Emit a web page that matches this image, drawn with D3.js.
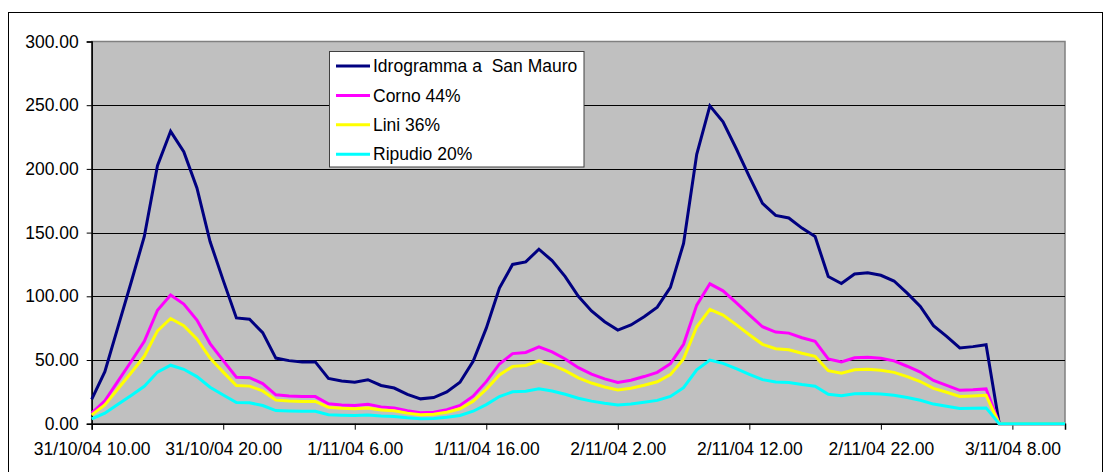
<!DOCTYPE html>
<html>
<head>
<meta charset="utf-8">
<script src="https://cdn.jsdelivr.net/npm/d3@7"></script>
<style>
  html, body { margin: 0; padding: 0; background: #ffffff; }
  svg { display: block; font-family: "Liberation Sans", Arial, sans-serif; }
</style>
</head>
<body>
<svg id="chart" width="1111" height="472"></svg>
<script>
// Hourly discharge (m³/s) at San Mauro and its split among three outlets
const seriesNames = ["Idrogramma a  San Mauro", "Corno 44%", "Lini 36%", "Ripudio 20%"];
const seriesColors = ["#000080", "#FF00FF", "#FFFF00", "#00FFFF"];

const sanMauro = [19.1, 40.8, 76, 111, 147, 202.5, 229.5, 213.5, 185, 143,
  112.5, 83, 82, 71.5, 51.5, 49.5, 48.5, 48.5, 35.5, 33.5,
  32.5, 34.5, 30, 28, 23, 19.5, 20.5, 25, 32.5, 49,
  75, 106.5, 125, 127, 137, 128, 115.5, 100, 88.5, 80,
  73.5, 77.5, 84, 91.5, 107, 141.5, 211.5, 249.5, 237, 216,
  194, 173, 163.5, 161.5, 153.5, 147, 115.5, 110, 117.5, 118.5,
  116.5, 112, 102.5, 92, 77, 68.5, 59.5, 60.5, 62, 0,
  0, 0, 0, 0, 0];

const corno = [8.4, 18.0, 33.4, 48.8, 64.7, 89.1, 101.0, 93.9, 81.4, 62.9,
  49.5, 36.5, 36.1, 31.5, 22.7, 21.8, 21.3, 21.3, 15.6, 14.7,
  14.3, 15.2, 13.2, 12.3, 10.1, 8.6, 9.0, 11.0, 14.3, 21.6,
  33.0, 46.9, 55.0, 55.9, 60.3, 56.3, 50.8, 44.0, 38.9, 35.2,
  32.3, 34.1, 37.0, 40.3, 47.1, 62.3, 93.1, 109.8, 104.3, 95.0,
  85.4, 76.1, 71.9, 71.1, 67.5, 64.7, 50.8, 48.4, 51.7, 52.1,
  51.3, 49.3, 45.1, 40.5, 33.9, 30.1, 26.2, 26.6, 27.3, 0,
  0, 0, 0, 0, 0];

const lini = [6.9, 14.7, 27.4, 40.0, 52.9, 72.9, 82.6, 76.9, 66.6, 51.5,
  40.5, 29.9, 29.5, 25.7, 18.5, 17.8, 17.5, 17.5, 12.8, 12.1,
  11.7, 12.4, 10.8, 10.1, 8.3, 7.0, 7.4, 9.0, 11.7, 17.6,
  27.0, 38.3, 45.0, 45.7, 49.3, 46.1, 41.6, 36.0, 31.9, 28.8,
  26.5, 27.9, 30.2, 32.9, 38.5, 50.9, 76.1, 89.8, 85.3, 77.8,
  69.8, 62.3, 58.9, 58.1, 55.3, 52.9, 41.6, 39.6, 42.3, 42.7,
  41.9, 40.3, 36.9, 33.1, 27.7, 24.7, 21.4, 21.8, 22.3, 0,
  0, 0, 0, 0, 0];

const ripudio = [3.8, 8.2, 15.2, 22.2, 29.4, 40.5, 45.9, 42.7, 37.0, 28.6,
  22.5, 16.6, 16.4, 14.3, 10.3, 9.9, 9.7, 9.7, 7.1, 6.7,
  6.5, 6.9, 6.0, 5.6, 4.6, 3.9, 4.1, 5.0, 6.5, 9.8,
  15.0, 21.3, 25.0, 25.4, 27.4, 25.6, 23.1, 20.0, 17.7, 16.0,
  14.7, 15.5, 16.8, 18.3, 21.4, 28.3, 42.3, 49.9, 47.4, 43.2,
  38.8, 34.6, 32.7, 32.3, 30.7, 29.4, 23.1, 22.0, 23.5, 23.7,
  23.3, 22.4, 20.5, 18.4, 15.4, 13.7, 11.9, 12.1, 12.4, 0,
  0, 0, 0, 0, 0];

const yTicks = [0, 50, 100, 150, 200, 250, 300];

// Hourly category labels, from 31/10/04 10.00 onward
const startHour = { day: 31, month: 10, hour: 10 };
const categories = sanMauro.map((_, i) => {
  let h = startHour.hour + i, d = startHour.day, m = startHour.month;
  d += Math.floor(h / 24); h = h % 24;
  if (m === 10 && d > 31) { d -= 31; m = 11; }
  return `${d}/${m}/04 ${h}.00`;
});
const tickEvery = 10;

const svg = d3.select("#chart");
const W = 1111, H = 472;
const plot = { left: 91.7, right: 1065, top: 41.5, bottom: 423.7 };

// outer chart frame
svg.append("rect")
  .attr("x", 8.5).attr("y", 12.5)
  .attr("width", 1094).attr("height", 470)
  .attr("fill", "#ffffff").attr("stroke", "#000000").attr("stroke-width", 1);

const x = d3.scalePoint().domain(categories).range([plot.left, plot.right]);
const y = d3.scaleLinear().domain([0, 300]).range([plot.bottom, plot.top]);

// plot background
svg.append("rect")
  .attr("x", plot.left).attr("y", plot.top)
  .attr("width", plot.right - plot.left).attr("height", plot.bottom - plot.top)
  .attr("fill", "#C0C0C0").attr("stroke", "#808080").attr("stroke-width", 1.5);

// horizontal gridlines
svg.append("g").selectAll("line")
  .data(yTicks.filter(v => v > 0 && v < 300))
  .join("line")
  .attr("x1", plot.left).attr("x2", plot.right)
  .attr("y1", d => Math.round(y(d)) + 0.5).attr("y2", d => Math.round(y(d)) + 0.5)
  .attr("stroke", "#000000").attr("stroke-width", 1);

// y axis
const yAxis = d3.axisLeft(y).tickValues(yTicks).tickFormat(d3.format(".2f"))
  .tickSize(5).tickPadding(8);
const gy = svg.append("g").attr("transform", `translate(${plot.left},0)`).call(yAxis);
gy.select(".domain").attr("stroke", "#000000").attr("stroke-width", 1.5);
gy.selectAll(".tick line").attr("stroke", "#000000");
gy.selectAll("text").attr("font-size", 17.5).attr("fill", "#000000")
  .attr("font-family", "Liberation Sans, Arial, sans-serif");

// x axis
const xAxis = d3.axisBottom(x)
  .tickValues(categories.filter((_, i) => i % tickEvery === 0))
  .tickSize(6).tickPadding(13);
const gx = svg.append("g").attr("transform", `translate(0,${plot.bottom})`).call(xAxis);
gx.select(".domain").attr("stroke", "#000000").attr("stroke-width", 1.5);
gx.selectAll(".tick line").attr("stroke", "#000000");
gx.selectAll("text").attr("font-size", 17.5).attr("fill", "#000000")
  .attr("font-family", "Liberation Sans, Arial, sans-serif");

// series lines
const allSeries = [sanMauro, corno, lini, ripudio];
const line = d3.line()
  .x((d, i) => x(categories[i]))
  .y(d => y(d));

svg.append("g").selectAll("path")
  .data(allSeries)
  .join("path")
  .attr("d", d => line(d))
  .attr("fill", "none")
  .attr("stroke", (d, i) => seriesColors[i])
  .attr("stroke-width", 3)
  .attr("stroke-linejoin", "miter");

// legend
const legend = svg.append("g").attr("transform", "translate(329.5,51.5)");
legend.append("rect")
  .attr("width", 254.5).attr("height", 115.5)
  .attr("fill", "#ffffff").attr("stroke", "#404040").attr("stroke-width", 1);
const rows = legend.selectAll("g.row")
  .data(seriesNames)
  .join("g").attr("class", "row")
  .attr("transform", (d, i) => `translate(0,${14.5 + i * 29.4})`);
rows.append("line")
  .attr("x1", 6.5).attr("x2", 40.5)
  .attr("stroke", (d, i) => seriesColors[i]).attr("stroke-width", 3);
rows.append("text")
  .attr("x", 43.5).attr("dy", "0.35em")
  .attr("font-size", 17.5)
  .attr("fill", "#000000")
  .style("white-space", "pre")
  .text(d => d);
</script>
</body>
</html>
